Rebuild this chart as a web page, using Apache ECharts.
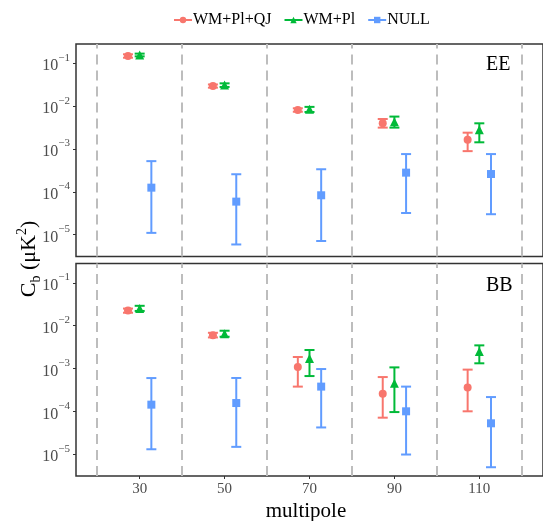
<!DOCTYPE html>
<html>
<head>
<meta charset="utf-8">
<script src="https://cdn.jsdelivr.net/npm/echarts@6/dist/echarts.min.js"></script>
<style>html,body{margin:0;padding:0;background:#fff}#c{width:543px;height:521px}</style>
</head>
<body>
<div id="c"></div>
<script>
// ---- data ----
const multipoles = [30, 50, 70, 90, 110];
const binEdges = [20, 40, 60, 80, 100, 120];
const seriesNames = ['WM+Pl+QJ', 'WM+Pl', 'NULL'];
const yTickValues = [1e-5, 1e-4, 1e-3, 1e-2, 1e-1];

// EE
const eeQJ      = [0.148, 0.0295, 8.1e-3, 4.0e-3, 1.65e-3];
const eeQJLow   = [0.135, 0.027, 7.4e-3, 3.15e-3, 8.9e-4];
const eeQJHigh  = [0.162, 0.032, 8.9e-3, 5.0e-3, 2.4e-3];
const eePl      = [0.156, 0.031, 8.4e-3, 4.3e-3, 2.8e-3];
const eePlLow   = [0.145, 0.028, 7.3e-3, 3.15e-3, 1.43e-3];
const eePlHigh  = [0.168, 0.034, 9.6e-3, 5.7e-3, 3.97e-3];
const eeNull    = [1.25e-4, 5.9e-5, 8.3e-5, 2.8e-4, 2.6e-4];
const eeNullLow = [1.1e-5, 5.9e-6, 7.1e-6, 3.2e-5, 3.0e-5];
const eeNullHigh= [5.2e-4, 2.57e-4, 3.36e-4, 7.6e-4, 7.6e-4];

// BB
const bbQJ      = [0.0226, 6.0e-3, 1.08e-3, 2.58e-4, 3.6e-4];
const bbQJLow   = [0.020, 5.3e-3, 3.77e-4, 7.1e-5, 1.0e-4];
const bbQJHigh  = [0.025, 6.8e-3, 1.85e-3, 6.3e-4, 9.4e-4];
const bbPl      = [0.0251, 6.5e-3, 1.7e-3, 4.5e-4, 2.5e-3];
const bbPlLow   = [0.022, 5.5e-3, 6.65e-4, 9.6e-5, 1.32e-3];
const bbPlHigh  = [0.029, 7.6e-3, 2.7e-3, 1.06e-3, 3.46e-3];
const bbNull    = [1.43e-4, 1.56e-4, 3.77e-4, 1.0e-4, 5.25e-5];
const bbNullLow = [1.3e-5, 1.48e-5, 4.2e-5, 9.8e-6, 4.95e-6];
const bbNullHigh= [5.97e-4, 6.0e-4, 9.7e-4, 3.77e-4, 2.15e-4];

// ---- styling ----
const colors = ['#F8766D', '#00BA38', '#619CFF'];
const symbols = ['circle', 'triangle', 'rect'];
const symbolSizes = [8, 9, 8];
const dodge = [-2.75, 0, 2.75];
const FONT = '"Liberation Serif", "DejaVu Serif", serif';

const panels = [
  { label: 'EE', sets: [[eeQJ, eeQJLow, eeQJHigh], [eePl, eePlLow, eePlHigh], [eeNull, eeNullLow, eeNullHigh]] },
  { label: 'BB', sets: [[bbQJ, bbQJLow, bbQJHigh], [bbPl, bbPlLow, bbPlHigh], [bbNull, bbNullLow, bbNullHigh]] }
];

const gridTops = [44, 263.5];
const gridH = 212.5;
const yMin = Math.pow(10, -5.51), yMax = Math.pow(10, -0.55);

const grids = [], xAxes = [], yAxes = [];
const pointSeries = [], barSeries = [], lineSeries = [];
panels.forEach((p, pi) => {
  grids.push({ left: 76, right: -4, top: gridTops[pi], height: gridH, show: true,
    borderColor: '#333', borderWidth: 1.5, backgroundColor: '#fff' });
  xAxes.push({
    type: 'value', gridIndex: pi, min: 15, max: 125,
    axisLine: { show: false }, splitLine: { show: false },
    axisTick: { show: pi === 1, customValues: multipoles, length: 3, lineStyle: { color: '#333' } },
    axisLabel: { show: pi === 1, customValues: multipoles, color: '#4d4d4d', fontFamily: FONT, fontSize: 15, margin: 6 }
  });
  yAxes.push({
    type: 'log', logBase: 10, gridIndex: pi, min: yMin, max: yMax,
    axisLine: { show: false }, splitLine: { show: false },
    axisTick: { show: true, customValues: yTickValues, length: 3, lineStyle: { color: '#333' } },
    axisLabel: {
      customValues: yTickValues, margin: 6,
      formatter: v => '{b|10}{s|\u2212' + Math.abs(Math.round(Math.log10(v))) + '}',
      rich: {
        b: { fontFamily: FONT, fontSize: 16, color: '#4d4d4d', lineHeight: 22, verticalAlign: 'bottom' },
        s: { fontFamily: FONT, fontSize: 11, color: '#4d4d4d', lineHeight: 12, verticalAlign: 'top' }
      }
    }
  });
  // bin separators
  lineSeries.push({
    type: 'line', xAxisIndex: pi, yAxisIndex: pi, data: [], silent: true,
    markLine: {
      silent: true, symbol: 'none', animation: false, label: { show: false },
      lineStyle: { color: '#bdbdbd', type: [10, 6], width: 2 },
      data: binEdges.map(e => ({ xAxis: e }))
    }
  });
  p.sets.forEach((set, si) => {
    const [val, lo, hi] = set;
    pointSeries.push({
      type: 'line', name: seriesNames[si], xAxisIndex: pi, yAxisIndex: pi, z: 4,
      data: multipoles.map((m, i) => [m + dodge[si], val[i]]),
      symbol: symbols[si], symbolSize: symbolSizes[si], showSymbol: true,
      itemStyle: { color: colors[si] },
      lineStyle: { color: colors[si], width: 2, opacity: 0 }
    });
    barSeries.push({
      type: 'custom', name: seriesNames[si], xAxisIndex: pi, yAxisIndex: pi, z: 3,
      data: multipoles.map((m, i) => [m + dodge[si], lo[i], hi[i]]),
      encode: { x: 0, y: [1, 2] },
      itemStyle: { color: colors[si] },
      renderItem: (params, api) => {
        const x = api.value(0);
        const a = api.coord([x, api.value(1)]);
        const b = api.coord([x, api.value(2)]);
        const w = 5;
        const st = { stroke: colors[si], lineWidth: 2 };
        return { type: 'group', children: [
          { type: 'line', shape: { x1: a[0], y1: a[1], x2: b[0], y2: b[1] }, style: st },
          { type: 'line', shape: { x1: a[0] - w, y1: a[1], x2: a[0] + w, y2: a[1] }, style: st },
          { type: 'line', shape: { x1: b[0] - w, y1: b[1], x2: b[0] + w, y2: b[1] }, style: st }
        ]};
      }
    });
  });
});

const chart = echarts.init(document.getElementById('c'), null, { renderer: 'canvas' });
chart.setOption({
  animation: false,
  color: colors,
  grid: grids, xAxis: xAxes, yAxis: yAxes,
  series: pointSeries.concat(barSeries, lineSeries),
  legend: {
    data: seriesNames,
    top: 7, left: 168, itemGap: 12, itemWidth: 18, itemHeight: 8,
    lineStyle: { opacity: 1, width: 2 },
    textStyle: { fontFamily: FONT, fontSize: 16, color: '#000', padding: [0, 0, 0, -4] }
  },
  graphic: [
    { type: 'text', left: 486, top: 55, style: { text: panels[0].label, font: '20px ' + FONT, fill: '#000' } },
    { type: 'text', left: 486, top: 276, style: { text: panels[1].label, font: '20px ' + FONT, fill: '#000' } },
    { type: 'text', x: 306, y: 511, style: { text: 'multipole', font: '21px ' + FONT, fill: '#000', align: 'center', verticalAlign: 'middle' } },
    { type: 'text', x: 29, y: 259, rotation: Math.PI / 2,
      style: {
        text: '{b|C}{sub|b}{b| (\u03bcK}{sup|2}{b|)}', align: 'center', verticalAlign: 'middle',
        rich: {
          b: { fontFamily: FONT, fontSize: 22, fill: '#000', lineHeight: 28, verticalAlign: 'middle' },
          sub: { fontFamily: FONT, fontSize: 14, fill: '#000', lineHeight: 13, verticalAlign: 'bottom' },
          sup: { fontFamily: FONT, fontSize: 14, fill: '#000', lineHeight: 13, verticalAlign: 'top' }
        }
      } }
  ]
});
</script>
</body>
</html>
